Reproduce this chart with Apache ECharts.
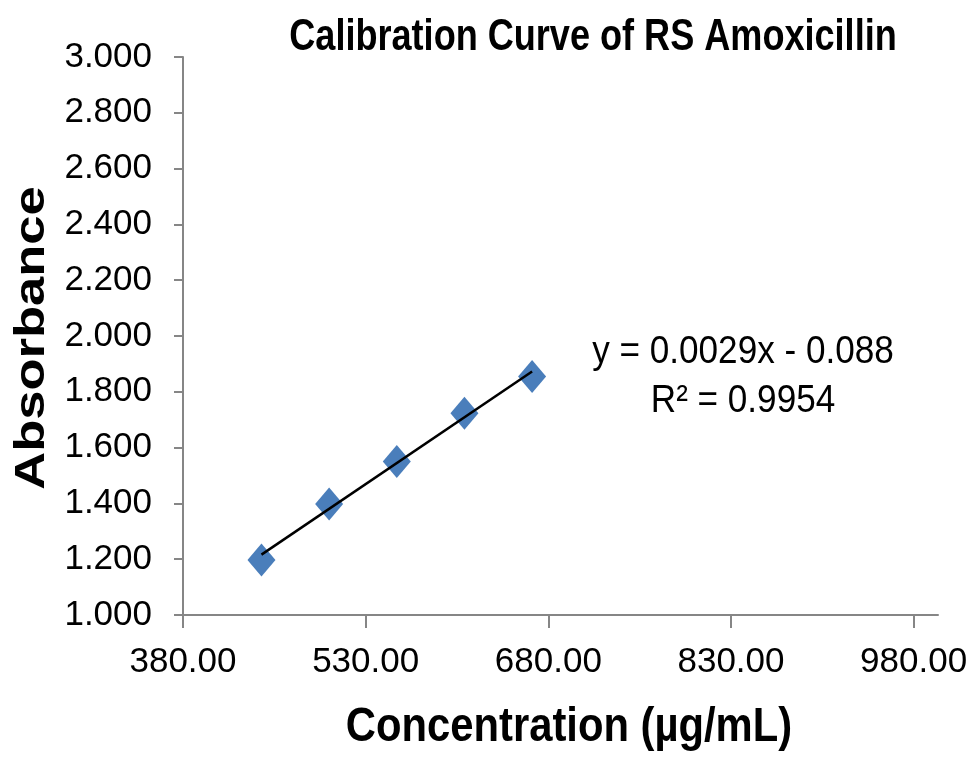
<!DOCTYPE html>
<html>
<head>
<meta charset="utf-8">
<script src="https://cdn.jsdelivr.net/npm/echarts@6/dist/echarts.min.js"></script>
<style>html,body{margin:0;padding:0;background:#fff}#c{width:969px;height:758px}</style>
</head>
<body>
<div id="c"></div>
<script>
// Data
var concentrations = [444.44, 500.00, 555.56, 611.11, 666.67];
var absorbances = [1.197, 1.398, 1.550, 1.723, 1.855];
var xTicks = [380, 530, 680, 830, 980];
var titleText = 'Calibration Curve of RS Amoxicillin';
var xName = 'Concentration (µg/mL)';
var yName = 'Absorbance';
var equationText = 'y = 0.0029x - 0.088';
var r2Text = 'R² = 0.9954';

// least-squares trend line over the data range
function fit(xs, ys) {
  var n = xs.length, mx = 0, my = 0, sxy = 0, sxx = 0;
  for (var i = 0; i < n; i++) { mx += xs[i]; my += ys[i]; }
  mx /= n; my /= n;
  for (var j = 0; j < n; j++) { sxy += (xs[j]-mx)*(ys[j]-my); sxx += (xs[j]-mx)*(xs[j]-mx); }
  var b = sxy / sxx; return { slope: b, intercept: my - b*mx };
}
var f = fit(concentrations, absorbances);
var xMin = Math.min.apply(null, concentrations), xMax = Math.max.apply(null, concentrations);
var trend = [[xMin, f.slope*xMin + f.intercept], [xMax, f.slope*xMax + f.intercept]];
var points = concentrations.map(function (x, i) { return [x, absorbances[i]]; });

var SANS = '"Liberation Sans", Arial, sans-serif';
var axisColor = '#868686';

var chart = echarts.init(document.getElementById('c'), null, { renderer: 'canvas' });
chart.setOption({
  backgroundColor: '#ffffff',
  animation: false,
  grid: { left: 183, right: 31, top: 57, bottom: 143, containLabel: false, outerBoundsMode: 'none' },
  xAxis: {
    type: 'value', min: 380, max: 1000,
    splitLine: { show: false },
    axisLine: { show: true, onZero: false, lineStyle: { color: axisColor, width: 2 } },
    axisTick: { show: true, length: 13, lineStyle: { color: axisColor, width: 2 }, customValues: xTicks },
    axisLabel: { customValues: xTicks, margin: 30, color: '#000', fontFamily: SANS, fontSize: 35,
      formatter: function (v) { return v.toFixed(2); } }
  },
  yAxis: {
    type: 'value', min: 1, max: 3, interval: 0.2,
    splitLine: { show: false },
    axisLine: { show: true, onZero: false, lineStyle: { color: axisColor, width: 2 } },
    axisTick: { show: true, length: 9, lineStyle: { color: axisColor, width: 2 } },
    axisLabel: { margin: 31, color: '#000', fontFamily: SANS, fontSize: 35,
      formatter: function (v) { return v.toFixed(3); } }
  },
  series: [
    {
      type: 'scatter', data: points, symbol: 'diamond', symbolSize: [28, 33],
      itemStyle: { color: '#4A7EBB', opacity: 1 }, z: 2
    },
    {
      type: 'line', data: trend, symbol: 'none', lineStyle: { color: '#000', width: 2.5 }, z: 3
    }
  ],
  graphic: [
    { type: 'text', x: 593, y: 38, scaleX: 0.82, style: { text: titleText, fill: '#000', textAlign: 'center', textVerticalAlign: 'middle',
      font: 'bold 44px ' + SANS } },
    { type: 'text', x: 569, y: 728, scaleX: 0.87, style: { text: xName, fill: '#000', textAlign: 'center', textVerticalAlign: 'middle',
      font: 'bold 48px ' + SANS } },
    { type: 'text', x: 32, y: 338, rotation: Math.PI / 2, scaleX: 1.25, style: { text: yName, fill: '#000', textAlign: 'center', textVerticalAlign: 'middle',
      font: 'bold 42px ' + SANS } },
    { type: 'text', x: 743, y: 352, scaleX: 0.9, style: { text: equationText, fill: '#000', textAlign: 'center', textVerticalAlign: 'middle',
      font: '39px ' + SANS } },
    { type: 'text', x: 743, y: 401, scaleX: 0.9, style: { text: r2Text, fill: '#000', textAlign: 'center', textVerticalAlign: 'middle',
      font: '39px ' + SANS } }
  ]
});
</script>
</body>
</html>
